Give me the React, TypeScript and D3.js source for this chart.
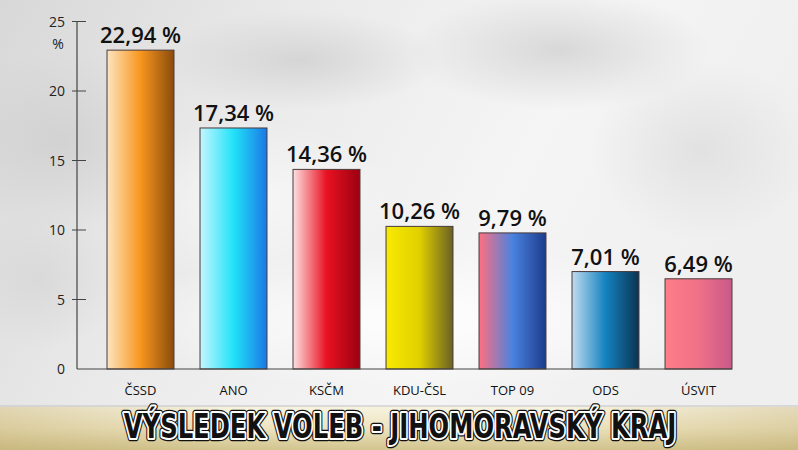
import React from "react";
import * as d3 from "d3";

const categories = ["ČSSD", "ANO", "KSČM", "KDU-ČSL", "TOP 09", "ODS", "ÚSVIT"];
const values = [22.94, 17.34, 14.36, 10.26, 9.79, 7.01, 6.49];
const valueLabels = ["22,94 %", "17,34 %", "14,36 %", "10,26 %", "9,79 %", "7,01 %", "6,49 %"];
const yTicks = [0, 5, 10, 15, 20, 25];
const barColors = [
  ["#fde4c0", "#f8961e", "#8a4c0c"],
  ["#c4f6ff", "#22e2f8", "#1a78e6"],
  ["#fde0e0", "#e81222", "#9c0010"],
  ["#f8ea00", "#e0d000", "#6a6024"],
  ["#ff7080", "#4a82e0", "#1c3c8c"],
  ["#c0dcf0", "#1482bf", "#0b3452"],
  ["#ff7e88", "#f07088", "#c85a8a"],
];
const title = "VÝSLEDEK VOLEB - JIHOMORAVSKÝ KRAJ";

const W = 798, H = 450;

export default function App() {
  const x = d3.scaleBand<string>().domain(categories).range([94, 745]).paddingInner(0.28).paddingOuter(0.14);
  const y = d3.scaleLinear().domain([0, 25]).range([369, 21.5]);
  const axisX = 77;
  const bw = x.bandwidth();
  const font = "'Open Sans', 'DejaVu Sans', sans-serif";
  return (
    <svg width={W} height={H} style={{ position: "absolute", left: 0, top: 0, display: "block" }}>
      <defs>
        <linearGradient id="bg" x1="0" y1="0" x2="1" y2="0.3">
          <stop offset="0" stopColor="#d8d8d8" />
          <stop offset="0.35" stopColor="#eaeaea" />
          <stop offset="0.7" stopColor="#f5f5f5" />
          <stop offset="1" stopColor="#efefef" />
        </linearGradient>
        <radialGradient id="blob" cx="0.5" cy="0.5" r="0.5">
          <stop offset="0" stopColor="#cccccc" stopOpacity="0.7" />
          <stop offset="1" stopColor="#cccccc" stopOpacity="0" />
        </radialGradient>
        <radialGradient id="blobw" cx="0.5" cy="0.5" r="0.5">
          <stop offset="0" stopColor="#ffffff" stopOpacity="0.9" />
          <stop offset="1" stopColor="#ffffff" stopOpacity="0" />
        </radialGradient>
        <linearGradient id="band" x1="0" y1="0" x2="0" y2="1">
          <stop offset="0" stopColor="#f7f3e0" />
          <stop offset="0.5" stopColor="#ece3be" />
          <stop offset="1" stopColor="#d2c48e" />
        </linearGradient>
        <linearGradient id="bandSide" x1="0" y1="0" x2="1" y2="0">
          <stop offset="0" stopColor="#b8a060" stopOpacity="0.35" />
          <stop offset="0.3" stopColor="#b8a060" stopOpacity="0" />
          <stop offset="0.7" stopColor="#b8a060" stopOpacity="0" />
          <stop offset="1" stopColor="#b8a060" stopOpacity="0.3" />
        </linearGradient>
        {barColors.map((c, i) => (
          <linearGradient key={i} id={`bar${i}`} x1="0" y1="0" x2="1" y2="0">
            <stop offset="0" stopColor={c[0]} />
            <stop offset="0.5" stopColor={c[1]} />
            <stop offset="1" stopColor={c[2]} />
          </linearGradient>
        ))}
      </defs>
      <rect x={0} y={0} width={W} height={H} fill="url(#bg)" />
      <ellipse cx={60} cy={140} rx={120} ry={90} fill="url(#blob)" />
      <ellipse cx={40} cy={280} rx={80} ry={70} fill="url(#blob)" opacity={0.6} />
      <ellipse cx={300} cy={60} rx={140} ry={50} fill="url(#blob)" />
      <ellipse cx={560} cy={50} rx={150} ry={60} fill="url(#blob)" />
      <ellipse cx={700} cy={150} rx={110} ry={90} fill="url(#blob)" opacity={0.6} />
      <ellipse cx={420} cy={320} rx={320} ry={70} fill="url(#blobw)" />
      <ellipse cx={250} cy={200} rx={150} ry={80} fill="url(#blobw)" opacity={0.6} />

      {/* bars */}
      {categories.map((c, i) => (
        <rect key={c} x={x(c)} y={y(values[i])} width={bw} height={y(0) - y(values[i])}
          fill={`url(#bar${i})`} stroke="#4a3a3a" strokeWidth={1} />
      ))}
      {categories.map((c, i) => (
        <text key={c} x={(x(c) as number) + bw / 2} y={y(values[i]) - 7} textAnchor="middle"
          fontFamily={font} fontWeight={600} fontSize={22} fill="#111">{valueLabels[i]}</text>
      ))}

      {/* axes */}
      <line x1={axisX} x2={axisX} y1={y(25)} y2={y(0)} stroke="#444" strokeWidth={1.2} />
      <line x1={axisX} x2={(x(categories[categories.length - 1]) as number) + bw} y1={y(0)} y2={y(0)} stroke="#444" strokeWidth={1.2} />
      {yTicks.map((t) => (
        <g key={t}>
          {t > 0 && <line x1={72} x2={86} y1={y(t)} y2={y(t)} stroke="#444" strokeWidth={1} />}
          <text x={65} y={y(t) + 5} textAnchor="end" fontFamily={font} fontSize={14} fill="#222">{t}</text>
        </g>
      ))}
      <text x={58} y={y(25) + 27} textAnchor="middle" fontFamily={font} fontSize={14} fill="#222">%</text>
      {categories.map((c) => (
        <text key={c} x={(x(c) as number) + bw / 2} y={395} textAnchor="middle"
          fontFamily={font} fontSize={13} fill="#111">{c}</text>
      ))}

      {/* bottom band */}
      <rect x={0} y={405} width={W} height={3} fill="#c8c8c8" opacity={0.6} />
      <rect x={0} y={407} width={W} height={43} fill="url(#band)" />
      <rect x={0} y={407} width={W} height={43} fill="url(#bandSide)" />
      <g transform="translate(400,438) scale(1,1.22)" fontFamily="'DejaVu Sans Condensed', 'Liberation Sans Narrow', sans-serif" fontWeight="bold" fontSize={27}>
        <text x={0} y={0} textAnchor="middle"
          fill="none" stroke="#111" strokeWidth={5.5} strokeLinejoin="round">{title}</text>
        <text x={0} y={0} textAnchor="middle"
          fill="none" stroke="#fff" strokeWidth={3.4} strokeLinejoin="round">{title}</text>
        <text x={0} y={0} textAnchor="middle" fill="#111">{title}</text>
      </g>
    </svg>
  );
}
